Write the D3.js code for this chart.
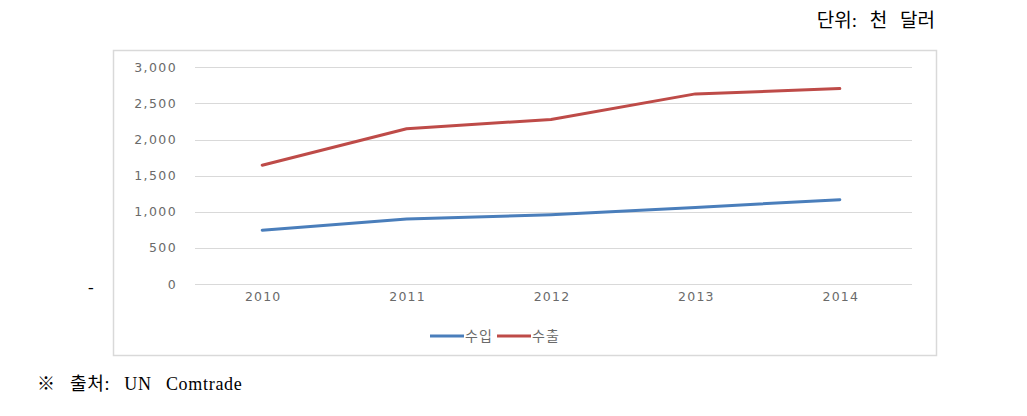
<!DOCTYPE html>
<html><head><meta charset="utf-8">
<script src="https://cdn.jsdelivr.net/npm/d3@7"></script>
<style>body{margin:0;background:#fff;}svg{display:block;}</style>
</head><body>
<svg id="c" width="1027" height="416"></svg>
<script>
const years = ["2010","2011","2012","2013","2014"];
const imports = [745, 900, 958, 1060, 1168];
const exports = [1645, 2150, 2278, 2632, 2705];
const yTicks = [0, 500, 1000, 1500, 2000, 2500, 3000];
const seriesNames = ["수입", "수출"];
const seriesColors = ["#4a7ebb", "#be4b48"];

const svg = d3.select("#c");
svg.append("rect").attr("x",113.5).attr("y",50.5).attr("width",823).attr("height",305)
  .attr("fill","#fff").attr("stroke","#d9d9d9").attr("stroke-width",1.5);

const x = d3.scaleBand().domain(years).range([190, 912]);
const y = d3.scaleLinear().domain([0, 3000]).range([284, 67.3]);

const grid = svg.append("g");
grid.selectAll("line").data(yTicks).join("line")
  .attr("x1",195).attr("x2",912)
  .attr("y1",d=>Math.round(y(d))+0.5).attr("y2",d=>Math.round(y(d))+0.5)
  .attr("stroke","#d9d9d9").attr("stroke-width",1);

const fmt = d3.format(",");
const tickFont = "'DejaVu Sans', Verdana, sans-serif";
const yAxis = svg.append("g").attr("transform","translate(177,0)")
  .call(d3.axisLeft(y).tickValues(yTicks).tickFormat(fmt).tickSize(0).tickPadding(0));
yAxis.select(".domain").remove();
yAxis.selectAll("text").attr("fill","#6a6a6a").attr("font-size",12.5)
  .attr("letter-spacing",1.4).attr("font-family",tickFont);

const xAxis = svg.append("g").attr("transform","translate(1,292)")
  .call(d3.axisBottom(x).tickSize(0).tickPadding(0));
xAxis.select(".domain").remove();
xAxis.selectAll("text").attr("fill","#6a6a6a").attr("font-size",12.5)
  .attr("letter-spacing",1.2).attr("font-family",tickFont);

const line = d3.line().x((d,i)=>x(years[i])+x.bandwidth()/2).y(d=>y(d));
[imports, exports].forEach((s,k)=>{
  svg.append("path").attr("d",line(s)).attr("fill","none")
    .attr("stroke",seriesColors[k]).attr("stroke-width",3).attr("stroke-linejoin","round").attr("stroke-linecap","round");
});

const lg = svg.append("g");
const lx = [430, 497];
seriesNames.forEach((n,k)=>{
  lg.append("line").attr("x1",lx[k]).attr("x2",lx[k]+34).attr("y1",336).attr("y2",336)
    .attr("stroke",seriesColors[k]).attr("stroke-width",3);
  lg.append("text").attr("x",lx[k]+35).attr("y",341).text(n)
    .attr("fill","#6a6a6a").attr("font-size",14).attr("letter-spacing",1).attr("font-family","'Noto Sans CJK KR', sans-serif");
});

svg.append("text").attr("x",935).attr("y",27).attr("text-anchor","end")
  .attr("font-size",19).attr("fill","#000").attr("font-family","'Liberation Serif','Noto Sans CJK KR', serif")
  .attr("word-spacing",8).text("단위: 천 달러");
svg.append("text").attr("x",37).attr("y",390)
  .attr("font-size",18).attr("fill","#000").attr("font-family","'Liberation Serif','Noto Sans CJK KR', serif")
  .attr("word-spacing",9).attr("letter-spacing",0.7).text("※ 출처: UN Comtrade");
svg.append("text").attr("x",88).attr("y",293)
  .attr("font-size",17).attr("fill","#000").attr("font-family","'Liberation Serif', serif").text("-");
</script>
</body></html>
